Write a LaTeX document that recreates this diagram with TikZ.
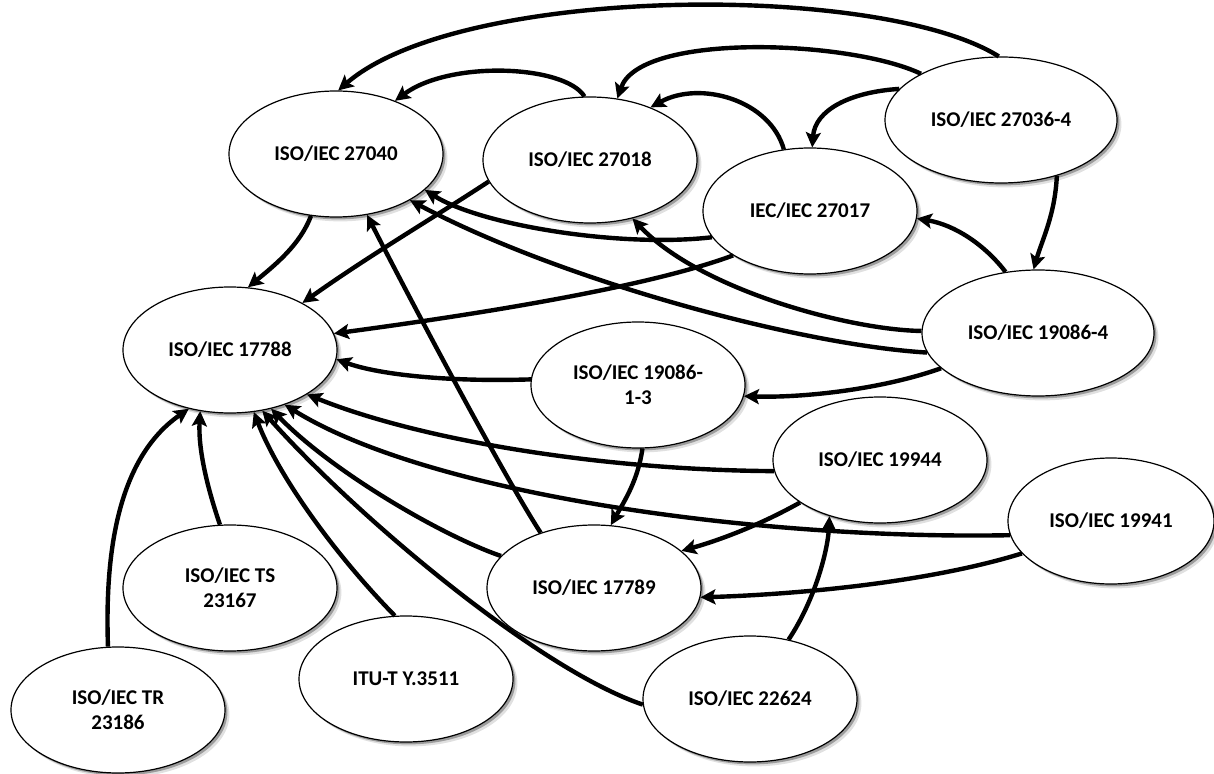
\documentclass[tikz,border=0pt]{standalone}
\usepackage{fontspec}
\setmainfont{Carlito}
\usetikzlibrary{arrows.meta,shapes.geometric,shadows}
\begin{document}
\begin{tikzpicture}[x=0.5pt, y=-0.5pt, line join=round, >={Stealth[length=7.5pt,width=7.5pt,inset=1.5pt]},
	std/.style={ellipse, draw=black, line width=0.6pt, fill=white, minimum width=107pt, minimum height=63pt, inner sep=0pt, align=center,
		font=\fontsize{10.5}{12.5}\selectfont\bfseries,
		drop shadow={shadow xshift=1.2pt, shadow yshift=-1.2pt, fill=black, opacity=0.3},
		drop shadow={shadow xshift=2.2pt, shadow yshift=-2.2pt, fill=black, opacity=0.12}},
	wide/.style={std, minimum width=116pt},
	link/.style={->, line width=2.2pt}]
	\useasboundingbox (0,0) rectangle (1214,774);
	\node[std] (e27040) at (336,154) {ISO/IEC 27040};
	\node[std] (e27018) at (590,160) {ISO/IEC 27018};
	\node[std] (e27017) at (810,211) {IEC/IEC 27017};
	\node[wide] (e27036) at (1001,120) {ISO/IEC 27036-4};
	\node[std] (e17788) at (230,350) {ISO/IEC 17788};
	\node[wide] (e19086d) at (1038,333) {ISO/IEC 19086-4};
	\node[std] (e19086s) at (638,385) {ISO/IEC 19086-\\1-3};
	\node[std] (e19944) at (880,460) {ISO/IEC 19944};
	\node[std, minimum width=103pt] (e19941) at (1111,521) {ISO/IEC 19941};
	\node[std] (e17789) at (594,588) {ISO/IEC 17789};
	\node[std] (eTS) at (230,588) {ISO/IEC TS\\23167};
	\node[std] (eTR) at (118,710) {ISO/IEC TR\\23186};
	\node[std] (eITU) at (406,679) {ITU-T Y.3511};
	\node[std] (e22624) at (750,699) {ISO/IEC 22624};
	% top arcs
	\draw[link] (e27036.92) .. controls (880,-18) and (460,-15) .. (e27040.88);
	\draw[link] (e27036.150) .. controls (850,40) and (640,32) .. (e27018.66);
	\draw[link] (e27036.163) .. controls (850,92) and (815,110) .. (e27017.88);
	\draw[link] (e27036.-45) .. controls (1055,215) and (1042,240) .. (e19086d.94);
	\draw[link] (e27017.113) .. controls (770,100) and (700,80) .. (e27018.41);
	\draw[link] (e27018.95) .. controls (565,65) and (450,60) .. (e27040.42);
	\draw[link] (e27040.-112) .. controls (300,245) and (275,265) .. (e17788.74);
	\draw[link] (e27018.192) .. controls (430,220) and (370,255) .. (e17788.33);
	\draw[link] (e27017.210) .. controls (640,290) and (450,318) .. (e17788.9);
	\draw[link] (e27017.195) .. controls (620,248) and (480,225) .. (e27040.-22);
	\draw[link] (e19086d.179) .. controls (850,330) and (700,290) .. (e27018.-54);
	\draw[link] (e19086d.190) .. controls (800,345) and (560,280) .. (e27040.-32);
	\draw[link] (e19086d.118) .. controls (985,245) and (955,225) .. (e27017.-4);
	\draw[link] (e19086d.200) .. controls (880,390) and (800,398) .. (e19086s.-6);
	% into 17788 and 17789
	\draw[link] (e19086s.177) .. controls (450,382) and (380,375) .. (e17788.-5);
	\draw[link] (e19086s.-86) .. controls (638,480) and (625,500) .. (e17789.75);
	\draw[link] (e19944.186) .. controls (600,470) and (420,440) .. (e17788.-30);
	\draw[link] (e19941.188) .. controls (760,540) and (430,495) .. (e17788.-45);
	\draw[link] (e17789.161) .. controls (440,535) and (330,470) .. (e17788.-55);
	\draw[link] (e17789.134) .. controls (500,470) and (400,280) .. (e27040.-63);
	\draw[link] (e22624.183) .. controls (540,670) and (360,520) .. (e17788.-62);
	\draw[link] (eITU.100) .. controls (340,560) and (280,480) .. (e17788.-69);
	\draw[link] (eTS.99) .. controls (208,490) and (198,450) .. (e17788.-116);
	\draw[link] (eTR.99) .. controls (105,560) and (115,460) .. (e17788.-125);
	\draw[link] (e19944.208) .. controls (760,525) and (720,540) .. (e17789.23);
	\draw[link] (e19941.200) .. controls (920,585) and (780,595) .. (e17789.-5);
	\draw[link] (e22624.57) .. controls (815,600) and (828,550) .. (e19944.-132);
\end{tikzpicture}
\end{document}
